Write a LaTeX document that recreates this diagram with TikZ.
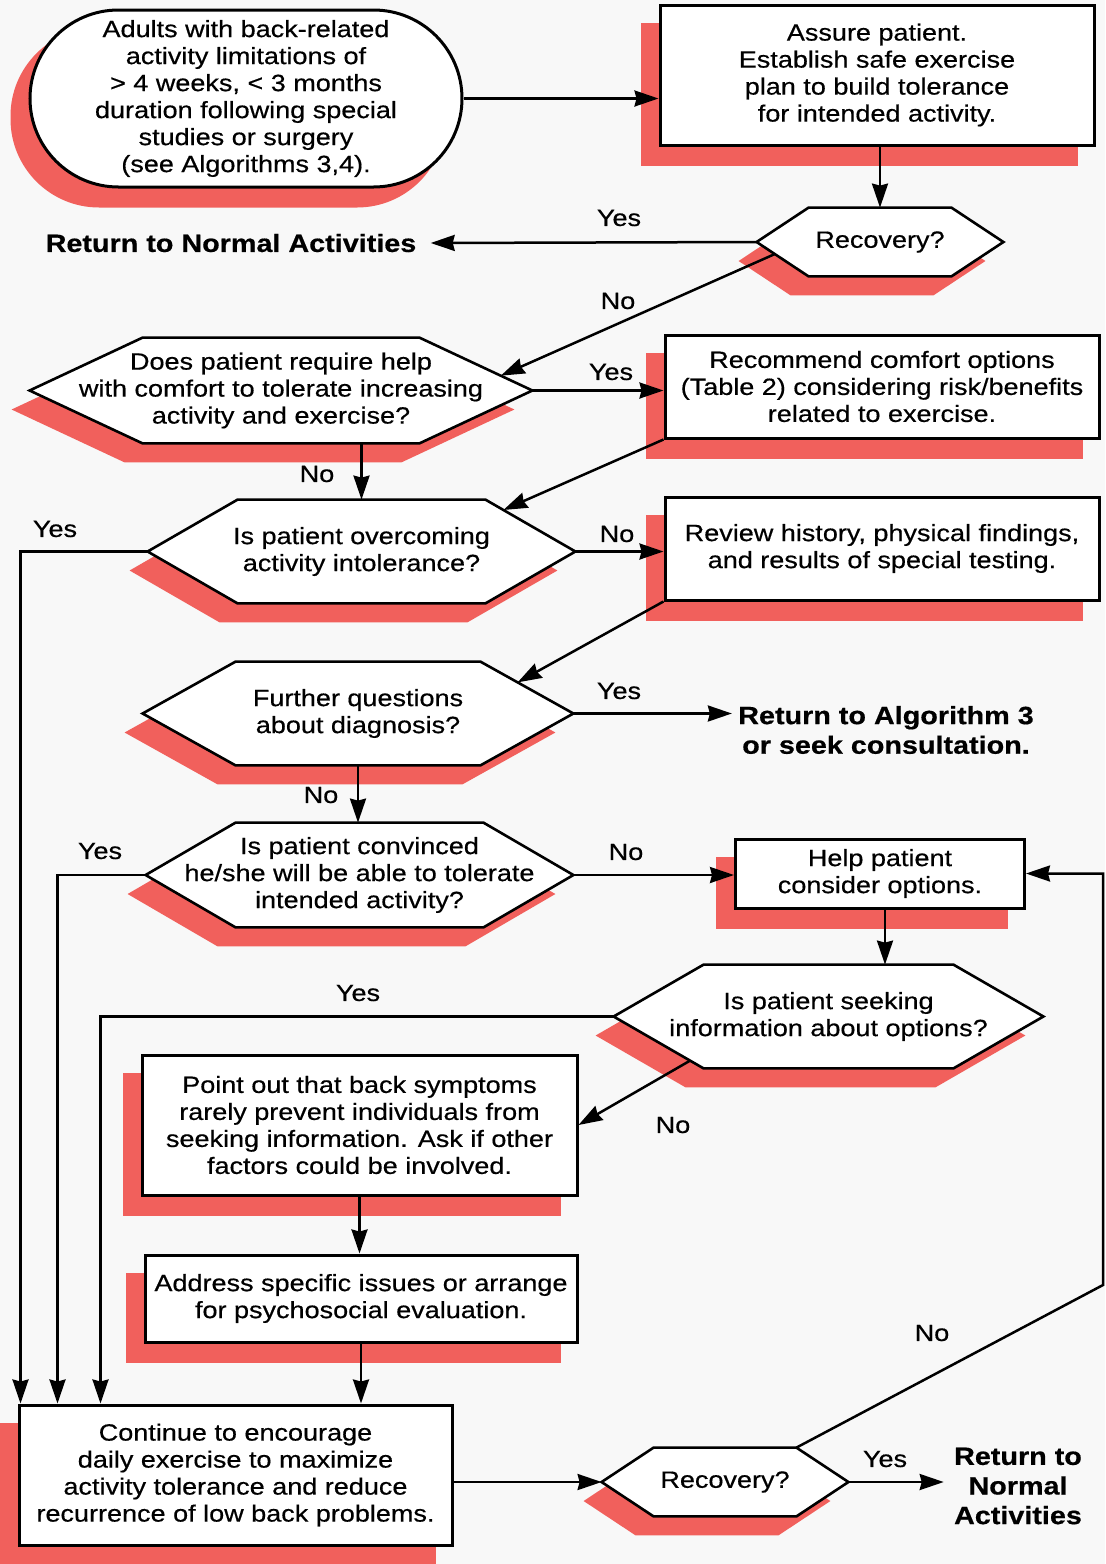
\documentclass[tikz,border=0pt]{standalone}
\usepackage{fontspec}
\setmainfont{Liberation Sans}[FakeStretch=1.15,FakeBold=0.5]
\usetikzlibrary{arrows.meta,calc}
\definecolor{paper}{RGB}{248,248,248}
\definecolor{dropred}{RGB}{241,96,92}
\pgfdeclarelayer{shadows}
\pgfdeclarelayer{hexfill}
\pgfsetlayers{shadows,hexfill,main}
\newcommand\txtfont{\fontsize{11.75pt}{13.5pt}\selectfont}
\newcommand\hdfont{\fontsize{12.5pt}{14.8pt}\selectfont\bfseries}

% hexagon frame (with drop shadow) around a named node; #2 = corner inset
\newcommand\hexframe[2]{%
  \coordinate (#1-tl) at ([shift={(#2,0)}]#1.north west);
  \coordinate (#1-tr) at ([shift={(-#2,0)}]#1.north east);
  \coordinate (#1-bl) at ([shift={(#2,0)}]#1.south west);
  \coordinate (#1-br) at ([shift={(-#2,0)}]#1.south east);
  \begin{pgfonlayer}{shadows}
    \fill[dropred,dropshift] (#1.west) -- (#1-tl) -- (#1-tr) -- (#1.east) -- (#1-br) -- (#1-bl) -- cycle;
  \end{pgfonlayer}
  \begin{pgfonlayer}{hexfill}
    \filldraw[fill=white,line width=1.3pt] (#1.west) -- (#1-tl) -- (#1-tr) -- (#1.east) -- (#1-br) -- (#1-bl) -- cycle;
  \end{pgfonlayer}}

% drop shadow for a rectangular box
\newcommand\boxshadow[1]{%
  \begin{pgfonlayer}{shadows}
    \fill[dropred,dropshift] (#1.north west) rectangle (#1.south east);
  \end{pgfonlayer}}

\begin{document}
\begin{tikzpicture}[x=0.5pt,y=-0.5pt,
  every node/.style={font=\txtfont,align=center},
  sz/.style 2 args={minimum width=#1*0.5pt,minimum height=#2*0.5pt},
  box/.style={draw,fill=white,line width=1.5pt,inner sep=0pt},
  hexnode/.style={inner sep=0pt},
  outcome/.style={font=\hdfont,inner sep=3pt},
  lab/.style={inner sep=0pt},
  dropshift/.style={transform canvas={xshift=-9pt,yshift=-9.5pt}},
  arr/.style={-{Stealth[length=12pt,width=8pt,inset=1pt]},line width=1.25pt}]

\useasboundingbox (0,0) rectangle (1105,1564);
\begin{pgfonlayer}{shadows}
  \fill[paper] (0,0) rectangle (1105,1564);
\end{pgfonlayer}

% ---- nodes ----
\node[box,sz={432}{177},rounded corners=44.25pt] (start) at (246,98.5)
  {Adults with back-related\\activity limitations of\\> 4 weeks, < 3 months\\duration following special\\studies or surgery\\(see Algorithms 3,4).};
\node[box,sz={434}{140}] (assure) at (877,75)
  {Assure patient.\\Establish safe exercise\\plan to build tolerance\\for intended activity.};
\node[hexnode,sz={246}{68}] (r1) at (880,242) {Recovery?};
\node[outcome,inner xsep=7pt] (ret1) at (231,243) {Return to Normal Activities};
\node[hexnode,sz={502}{105}] (h2) at (281,390.5)
  {Does patient require help\\with comfort to tolerate increasing\\activity and exercise?};
\node[box,sz={434}{103}] (recom) at (882,386.5)
  {Recommend comfort options\\(Table 2) considering risk/benefits\\related to exercise.};
\node[hexnode,sz={427}{103}] (h3) at (361.5,551.5)
  {Is patient overcoming\\activity intolerance?};
\node[box,sz={434}{103}] (review) at (882,548.5)
  {Review history, physical findings,\\and results of special testing.};
\node[hexnode,sz={430}{103}] (h4) at (358,713.5)
  {Further questions\\about diagnosis?};
\node[outcome] (ret2) at (886,730) {Return to Algorithm 3\\or seek consultation.};
\node[hexnode,sz={427}{104}] (h5) at (359.5,875)
  {Is patient convinced\\he/she will be able to tolerate\\intended activity?};
\node[box,sz={289}{69}] (help) at (880,873.5)
  {Help patient\\consider options.};
\node[hexnode,sz={429}{103}] (h6) at (828.5,1016.5)
  {Is patient seeking\\information about options?};
\node[box,sz={435}{140}] (point) at (359.5,1125)
  {Point out that back symptoms\\rarely prevent individuals from\\seeking information. Ask if other\\factors could be involved.};
\node[box,sz={432}{87}] (addr) at (361,1298.5)
  {Address specific issues or arrange\\for psychosocial evaluation.};
\node[box,sz={433}{140}] (cont) at (235.5,1475)
  {Continue to encourage\\daily exercise to maximize\\activity tolerance and reduce\\recurrence of low back problems.};
\node[hexnode,sz={246}{68}] (r2) at (725,1482) {Recovery?};
\node[outcome,inner xsep=5pt] (ret3) at (1018,1486) {Return to\\Normal\\Activities};

% ---- frames and shadows ----
\begin{pgfonlayer}{shadows}
  \fill[dropred,dropshift,rounded corners=44.25pt] (start.north west) rectangle (start.south east);
\end{pgfonlayer}
\boxshadow{assure}
\boxshadow{recom}
\boxshadow{review}
\boxshadow{help}
\boxshadow{point}
\boxshadow{addr}
\boxshadow{cont}
\hexframe{r1}{52}
\hexframe{h2}{113}
\hexframe{h3}{90}
\hexframe{h4}{93}
\hexframe{h5}{90}
\hexframe{h6}{90}
\hexframe{r2}{52}

% ---- connectors ----
\draw[arr] (start.east) -- (start.east -| assure.west);
\draw[arr] (r1.north |- assure.south) -- (r1.north);
\draw[arr] (r1.west) -- (ret1.east);
\draw[arr] ($(r1.west)!0.35!(r1-bl)$) -- ($(h2-tr)!0.72!(h2.east)$);
\draw[arr] (h2.east) -- (h2.east -| recom.west);
\draw[arr] (h3.north |- h2.south) -- (h3.north);
\draw[arr] (recom.south west) -- ($(h3-tr)!0.2!(h3.east)$);
\draw[arr] (h3.east) -- (h3.east -| review.west);
\draw[arr] (h3.west) -| ([shift={(3,0)}]cont.north west);
\draw[arr] (review.south west) -- ($(h4-tr)!0.4!(h4.east)$);
\draw[arr] (h4.east) -- (h4.east -| ret2.west);
\draw[arr] (h4.south) -- (h4.south |- h5.north);
\draw[arr] (h5.east) -- (h5.east -| help.west);
\draw[arr] (h5.west) -| ([shift={(40,0)}]cont.north west);
\draw[arr] ([shift={(5,0)}]help.south) -- ([shift={(5,0)}]help.south |- h6.north);
\draw[arr] (h6.west) -| ([shift={(83,0)}]cont.north west);
\draw[arr] ($(h6.west)!0.85!(h6-bl)$) -- (point.east);
\draw[arr] (point.south) -- (point.south |- addr.north);
\draw[arr] (addr.south) -- (addr.south |- cont.north);
\draw[arr] (cont.east |- r2.west) -- (r2.west);
\draw[arr] (r2.east) -- (r2.east -| ret3.west);
\coordinate (bend) at (1103,1285);
\draw[arr] (r2-tr) -- (bend) |- (help.east);

% ---- branch labels ----
\node[lab] (l1) at (619,218) {Yes};
\node[lab] (l2) at (618,301) {No};
\node[lab] (l3) at (611,372) {Yes};
\node[lab] (l4) at (317,474) {No};
\node[lab] (l5) at (55,529) {Yes};
\node[lab] (l6) at (617,534) {No};
\node[lab] (l7) at (619,691) {Yes};
\node[lab] (l8) at (321,795) {No};
\node[lab] (l9) at (100,851) {Yes};
\node[lab] (l10) at (626,852) {No};
\node[lab] (l11) at (358,993) {Yes};
\node[lab] (l12) at (673,1125) {No};
\node[lab] (l13) at (932,1333) {No};
\node[lab] (l14) at (885,1459) {Yes};
\end{tikzpicture}
\end{document}
